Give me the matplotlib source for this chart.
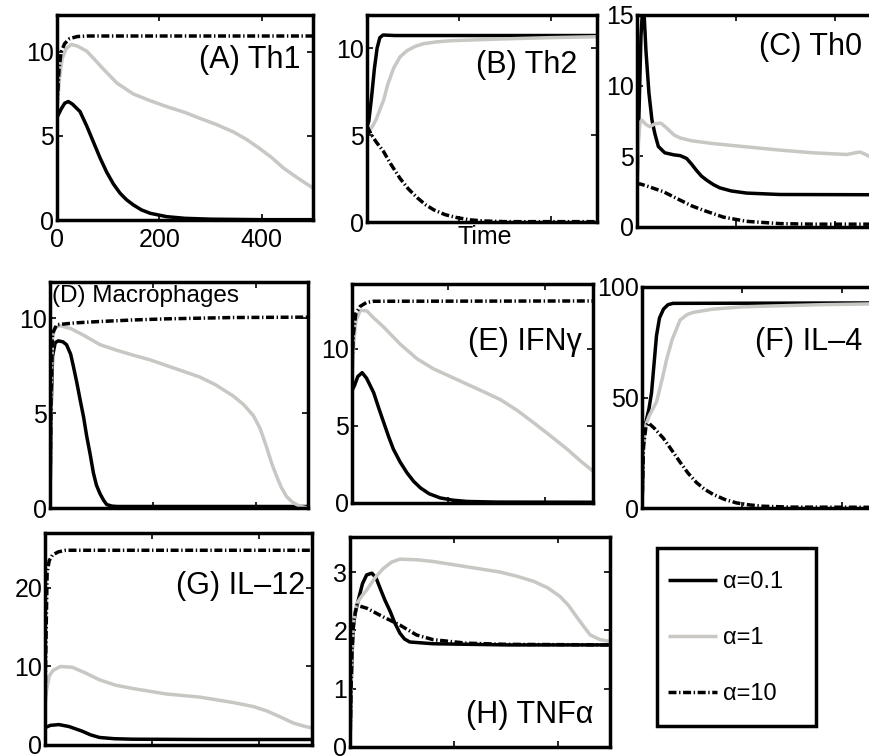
import matplotlib
matplotlib.use("Agg")
import matplotlib.pyplot as plt
from matplotlib.patches import Rectangle

plt.rcParams['font.family'] = ['Liberation Sans', 'DejaVu Sans']

# ---------------- data (time, value) per panel / alpha ----------------
# (A) Th1
A_t1 = [0, 8, 15, 22, 30, 45, 58, 71, 84, 97, 110, 123, 136, 149, 165, 182, 214, 250, 300, 400, 500]
A_v1 = [6.1, 6.6, 6.95, 7.05, 6.9, 6.45, 5.6, 4.65, 3.7, 2.85, 2.15, 1.6, 1.2, 0.9, 0.6, 0.4, 0.2, 0.1, 0.05, 0.02, 0.02]
A_t2 = [0, 5, 10, 18, 28, 40, 58, 75, 90, 117, 149, 182, 214, 250, 279, 310, 344, 370, 396, 420, 442, 470, 500]
A_v2 = [6.6, 8.5, 9.6, 10.2, 10.45, 10.35, 10.05, 9.5, 9.0, 8.15, 7.5, 7.1, 6.75, 6.4, 6.05, 5.7, 5.25, 4.8, 4.25, 3.7, 3.1, 2.5, 1.9]
A_t3 = [0, 4, 8, 15, 25, 40, 60, 500]
A_v3 = [6.8, 9.0, 10.0, 10.5, 10.8, 10.92, 10.95, 10.95]

# (B) Th2
B_t1 = [0, 4, 10, 16, 22, 28, 35, 60, 500]
B_v1 = [5.5, 5.8, 7.2, 8.8, 10.0, 10.6, 10.75, 10.72, 10.72]
B_t2 = [0, 5, 12, 20, 30, 36, 45, 58, 72, 87, 105, 123, 150, 181, 290, 400, 500]
B_v2 = [5.5, 5.25, 5.5, 5.9, 6.6, 7.0, 7.9, 8.85, 9.5, 9.85, 10.1, 10.25, 10.35, 10.42, 10.52, 10.6, 10.65]
B_t3 = [0, 10, 20, 36, 50, 72, 90, 109, 127, 145, 170, 196, 225, 254, 300, 500]
B_v3 = [5.5, 5.0, 4.6, 4.05, 3.4, 2.5, 1.9, 1.4, 1.0, 0.7, 0.42, 0.25, 0.12, 0.06, 0.02, 0.02]

# (C) Th0
C_t1 = [0, 4, 8, 11, 14, 18, 24, 30, 36, 43, 56, 75, 87, 100, 110, 120, 130, 141, 154, 167, 190, 221, 288, 500]
C_v1 = [2.9, 8.0, 13.5, 15.3, 15.3, 12.5, 9.5, 7.6, 6.6, 5.7, 5.25, 5.1, 5.05, 4.85, 4.45, 4.0, 3.6, 3.3, 3.0, 2.77, 2.55, 2.4, 2.3, 2.28]
C_t2 = [0, 3, 6, 10, 18, 26, 36, 48, 60, 75, 87, 110, 154, 221, 288, 355, 423, 440, 450, 460, 468, 480, 500]
C_v2 = [2.3, 6.0, 7.4, 7.55, 7.25, 7.1, 7.3, 7.35, 7.0, 6.5, 6.3, 6.1, 5.9, 5.67, 5.44, 5.25, 5.13, 5.25, 5.3, 5.15, 5.0, 4.8, 4.7]
C_t3 = [0, 6, 20, 53, 87, 110, 134, 174, 221, 288, 355, 500]
C_v3 = [3.0, 3.05, 2.9, 2.5, 1.9, 1.5, 1.18, 0.7, 0.4, 0.24, 0.2, 0.2]

# (D) Macrophages
D_t1 = [0, 2, 5, 10, 16, 25, 32, 40, 45, 52, 58, 65, 71, 78, 84, 90, 97, 104, 110, 120, 130, 500]
D_v1 = [0, 5.0, 8.0, 8.7, 8.8, 8.75, 8.6, 8.1, 7.5, 6.6, 5.75, 4.8, 3.8, 2.8, 1.86, 1.2, 0.75, 0.4, 0.18, 0.1, 0.08, 0.08]
D_t2 = [0, 2, 5, 10, 19, 40, 65, 97, 130, 161, 194, 226, 258, 290, 320, 355, 375, 394, 407, 419, 429, 439, 448, 458, 470, 484, 500]
D_v2 = [0, 6.0, 9.0, 9.5, 9.6, 9.45, 9.1, 8.6, 8.3, 8.05, 7.8, 7.5, 7.2, 6.9, 6.5, 5.9, 5.45, 4.87, 4.2, 3.27, 2.4, 1.68, 1.1, 0.62, 0.3, 0.09, 0.0]
D_t3 = [0, 2, 5, 13, 50, 97, 160, 226, 355, 500]
D_v3 = [0, 6.0, 9.2, 9.65, 9.75, 9.82, 9.9, 9.96, 10.03, 10.05]

# (E) IFN-gamma
E_t1 = [0, 5, 12, 21, 30, 38, 45, 55, 66, 76, 86, 100, 114, 128, 142, 160, 183, 210, 239, 300, 500]
E_v1 = [7.3, 7.6, 8.2, 8.45, 8.1, 7.6, 7.15, 6.2, 5.2, 4.3, 3.48, 2.65, 1.96, 1.4, 0.98, 0.6, 0.33, 0.18, 0.1, 0.06, 0.05]
E_t2 = [0, 4, 8, 17, 31, 45, 66, 100, 135, 169, 204, 239, 274, 308, 343, 377, 412, 446, 475, 500]
E_v2 = [8.0, 10.5, 11.8, 12.5, 12.45, 12.0, 11.4, 10.3, 9.35, 8.7, 8.2, 7.7, 7.2, 6.7, 6.0, 5.2, 4.35, 3.5, 2.7, 2.07]
E_t3 = [0, 3, 8, 17, 30, 45, 500]
E_v3 = [9.0, 11.0, 12.3, 12.75, 13.0, 13.08, 13.1]

# (F) IL-4
F_t1 = [0, 3, 6, 9, 14, 19, 24, 29, 35, 43, 52, 62, 500]
F_v1 = [0, 30, 37, 40, 45, 52, 65, 78, 86, 90, 92, 92.6, 92.8]
F_t2 = [0, 3, 8, 15, 29, 40, 49, 60, 76, 90, 102, 142, 200, 276, 360, 500]
F_v2 = [0, 30, 38, 42, 48, 58, 67, 76, 85, 87.5, 88.5, 90, 91, 91.5, 92, 92.5]
F_t3 = [0, 3, 8, 13, 25, 43, 60, 76, 92, 109, 125, 142, 165, 189, 215, 242, 300, 500]
F_v3 = [0, 28, 37, 38.5, 36, 31.5, 26, 20.8, 15.8, 11.5, 8.5, 6.2, 3.9, 2.3, 1.4, 0.8, 0.4, 0.3]

# (G) IL-12
G_t1 = [0, 10, 26, 45, 70, 85, 102, 130, 164, 300, 500]
G_v1 = [2.2, 2.5, 2.6, 2.35, 1.75, 1.3, 0.96, 0.8, 0.74, 0.7, 0.7]
G_t2 = [0, 3, 8, 15, 29, 51, 75, 102, 133, 164, 227, 290, 353, 390, 415, 440, 465, 485, 500]
G_v2 = [5.0, 7.0, 8.8, 9.5, 10.0, 9.9, 9.2, 8.3, 7.6, 7.2, 6.5, 6.1, 5.4, 4.9, 4.35, 3.6, 2.8, 2.4, 2.17]
G_t3 = [0, 1, 3, 4, 8, 14, 25, 39, 500]
G_v3 = [0.5, 10, 18, 22, 23.5, 24.2, 24.6, 24.8, 24.8]

# (H) TNF-alpha
H_t1 = [0, 2, 4, 6.4, 10, 16, 24, 32, 42, 50, 58, 67, 77, 86, 96, 105, 115, 160, 300, 500]
H_v1 = [0, 1.0, 1.6, 2.06, 2.3, 2.52, 2.8, 2.95, 2.98, 2.9, 2.72, 2.52, 2.33, 2.13, 1.95, 1.85, 1.8, 1.77, 1.75, 1.75]
H_t2 = [0, 2, 4, 7, 13, 22, 32, 48, 64, 80, 96, 128, 160, 224, 288, 320, 353, 380, 404, 420, 436, 450, 462, 481, 500]
H_v2 = [0, 1.0, 1.7, 2.15, 2.46, 2.58, 2.69, 2.9, 3.06, 3.17, 3.22, 3.21, 3.18, 3.09, 3.0, 2.93, 2.84, 2.73, 2.58, 2.43, 2.23, 2.06, 1.92, 1.84, 1.81]
H_t3 = [0, 2, 4, 7, 13, 32, 64, 96, 128, 160, 224, 300, 500]
H_v3 = [0, 1.0, 1.7, 2.15, 2.43, 2.38, 2.23, 2.09, 1.92, 1.84, 1.78, 1.76, 1.75]

legend_labels = ['\u03b1=0.1', '\u03b1=1', '\u03b1=10']
x_ticks = [0, 200, 400]

# ---------------- figure ----------------
W, H = 869, 756
fig = plt.figure(figsize=(W / 100, H / 100), dpi=100)

GRAY = '#c9c7c3'
LW = 2.5
DASH = [2.3, 0.75, 0.4, 0.75]


def rect(l, t, r, b):
    return [l / W, 1 - b / H, (r - l) / W, (b - t) / H]


panels = [
    (rect(57, 15, 313, 220), (A_t1, A_v1, A_t2, A_v2, A_t3, A_v3), (0, 12.2), [0, 5, 10],
     '(A) Th1', (0.95, 0.78), 'right', 22),
    (rect(367, 15, 597, 222), (B_t1, B_v1, B_t2, B_v2, B_t3, B_v3), (0, 11.9), [0, 5, 10],
     '(B) Th2', (0.913, 0.76), 'right', 22),
    (rect(637, 15, 885, 227), (C_t1, C_v1, C_t2, C_v2, C_t3, C_v3), (0, 15), [0, 5, 10, 15],
     '(C) Th0', (0.907, 0.85), 'right', 22),
    (rect(50, 282, 308, 508), (D_t1, D_v1, D_t2, D_v2, D_t3, D_v3), (0, 11.9), [0, 5, 10],
     '(D) Macrophages', (0.008, 0.94), 'left', 17.5),
    (rect(352, 284, 593, 503), (E_t1, E_v1, E_t2, E_v2, E_t3, E_v3), (0, 14.2), [0, 5, 10],
     '(E) IFN\u03b3', (0.954, 0.735), 'right', 22),
    (rect(642, 287, 892, 508), (F_t1, F_v1, F_t2, F_v2, F_t3, F_v3), (0, 100), [0, 50, 100],
     '(F) IL\u20134', (0.88, 0.75), 'right', 22),
    (rect(45, 533, 312, 745), (G_t1, G_v1, G_t2, G_v2, G_t3, G_v3), (0, 27), [0, 10, 20],
     '(G) IL\u201312', (0.974, 0.75), 'right', 22),
    (rect(350, 537, 610, 747), (H_t1, H_v1, H_t2, H_v2, H_t3, H_v3), (0, 3.6), [0, 1, 2, 3],
     '(H) TNF\u03b1', (0.935, 0.15), 'right', 22),
]

handles = None
for i, (r, s, ylim, yticks, lab, lpos, ha, fs) in enumerate(panels):
    ax = fig.add_axes(r)
    l1, = ax.plot(s[0], s[1], color='black', lw=LW, solid_capstyle='butt')
    l2, = ax.plot(s[2], s[3], color=GRAY, lw=LW, solid_capstyle='butt')
    l3, = ax.plot(s[4], s[5], color='black', lw=LW, dashes=DASH)
    if handles is None:
        handles = [l1, l2, l3]
    ax.set_xlim(0, 500)
    ax.set_ylim(*ylim)
    ax.set_xticks(x_ticks)
    ax.set_yticks(yticks)
    ax.tick_params(direction='in', length=4, width=1.2, top=True, right=True,
                   labelsize=18, pad=2)
    ax.tick_params(axis='x', pad=6)
    if i != 0:
        ax.set_xticklabels([])
    for sp in ax.spines.values():
        sp.set_linewidth(2.5)
    ax.text(lpos[0], lpos[1], lab, transform=ax.transAxes, ha=ha, va='center',
            fontsize=fs)

fig.text(485 / W, 1 - 237 / H, 'Time', ha='center', va='center', fontsize=18)

# legend box
fig.patches.append(Rectangle((657 / W, 1 - 726 / H), (816 - 657) / W, (726 - 548) / H,
                             transform=fig.transFigure, fill=False, lw=2.5, ec='black'))
fig.legend(handles, legend_labels, loc='center left',
           bbox_to_anchor=(668 / W, 1 - 638 / H), frameon=False, fontsize=17,
           handlelength=2.06, handletextpad=0.25, labelspacing=1.45,
           borderpad=0, borderaxespad=0)

fig.savefig('out.png', dpi=100)
